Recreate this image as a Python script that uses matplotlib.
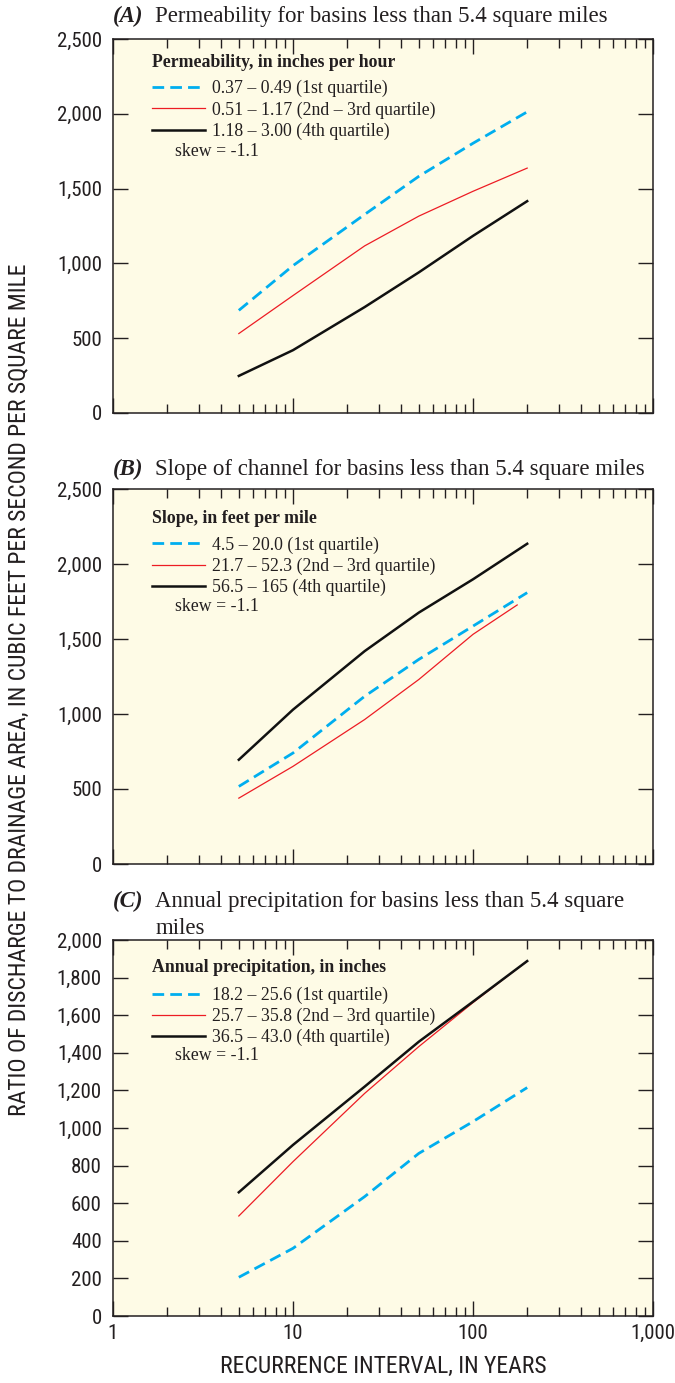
import matplotlib
matplotlib.use('Agg')
import matplotlib.pyplot as plt
from matplotlib.ticker import FuncFormatter, FixedLocator, NullFormatter

# Recurrence interval, in years
years = [5, 10, 25, 50, 100, 200]
years_b_red = [5, 10, 25, 50, 100, 176]

# (A) Permeability
perm_q1 = [686, 985, 1327, 1582, 1803, 2013]
perm_q23 = [531, 785, 1117, 1316, 1482, 1637]
perm_q4 = [248, 420, 708, 940, 1184, 1416]

# (B) Slope of channel
slope_q1 = [517, 740, 1118, 1364, 1586, 1809]
slope_q23 = [439, 651, 963, 1230, 1531, 1727]
slope_q4 = [695, 1029, 1419, 1676, 1898, 2135]

# (C) Annual precipitation
precip_q1 = [206, 360, 635, 865, 1034, 1215]
precip_q23 = [532, 821, 1184, 1433, 1667, 1888]
precip_q4 = [658, 910, 1220, 1459, 1672, 1888]

labels_a = ['0.37 – 0.49 (1st quartile)', '0.51 – 1.17 (2nd – 3rd quartile)',
            '1.18 – 3.00 (4th quartile)']
labels_b = ['4.5 – 20.0 (1st quartile)', '21.7 – 52.3 (2nd – 3rd quartile)',
            '56.5 – 165 (4th quartile)']
labels_c = ['18.2 – 25.6 (1st quartile)', '25.7 – 35.8 (2nd – 3rd quartile)',
            '36.5 – 43.0 (4th quartile)']

BLUE = '#00AEEF'
RED = '#ED1C24'
INK = '#231F20'
PAPER = '#FEFBE6'
SERIF = ['Liberation Serif', 'DejaVu Serif']
NARROW = ['Roboto Condensed', 'Liberation Sans', 'DejaVu Sans']

W, H = 675, 1383


def axes_rect(top, bottom, left=113, right=653):
    return [left / W, 1 - bottom / H, (right - left) / W, (bottom - top) / H]


def style_axes(ax, ymax, ystep, show_x):
    ax.set_facecolor(PAPER)
    ax.set_xscale('log')
    ax.set_xlim(1, 1000)
    ax.set_ylim(0, ymax)
    ax.yaxis.set_major_locator(FixedLocator(list(range(0, ymax + 1, ystep))))
    ax.yaxis.set_major_formatter(FuncFormatter(lambda v, p: f'{int(v):,}'))
    ax.xaxis.set_major_locator(FixedLocator([1, 10, 100, 1000]))
    ax.xaxis.set_minor_locator(FixedLocator(
        [m * d for d in (1, 10, 100) for m in range(2, 10)]))
    ax.xaxis.set_minor_formatter(NullFormatter())
    if show_x:
        ax.xaxis.set_major_formatter(FuncFormatter(lambda v, p: f'{int(v):,}'))
    else:
        ax.xaxis.set_major_formatter(NullFormatter())
    ax.tick_params(axis='both', which='major', direction='in', length=10.5,
                   width=1, color=INK, top=True, right=True,
                   labelsize=15, labelcolor=INK)
    ax.tick_params(axis='y', which='major', pad=8)
    ax.tick_params(axis='x', which='major', pad=6)
    ax.tick_params(axis='x', which='minor', direction='in', length=6.5,
                   width=1, color=INK, top=True, bottom=True)
    for lab in ax.get_xticklabels() + ax.get_yticklabels():
        lab.set_family(NARROW)
    for sp in ax.spines.values():
        sp.set_color(INK)
        sp.set_linewidth(1.1)


def draw_panel(ax, q1, q23, q4, labels, legend_title, ys, x23=years):
    ax.plot(years, q1, color=BLUE, linewidth=2.0, dashes=(4.2, 2.2),
            label=labels[0])
    ax.plot(x23, q23, color=RED, linewidth=0.9, label=labels[1])
    ax.plot(years, q4, color='#111111', linewidth=1.8, label=labels[2])
    y_title, y_leg, y_skew = ys
    ax.text(0.072, y_title, legend_title, transform=ax.transAxes,
            family=SERIF, fontsize=12.8, weight='bold', color=INK,
            va='center')
    leg = ax.legend(loc='upper left', bbox_to_anchor=(0.072, y_leg),
                    frameon=False, borderpad=0, borderaxespad=0,
                    handlelength=3.0, handletextpad=0.4, labelspacing=0.22,
                    prop={'family': SERIF, 'size': 12.8})
    for t in leg.get_texts():
        t.set_color(INK)
    ax.text(0.115, y_skew, 'skew = -1.1', transform=ax.transAxes,
            family=SERIF, fontsize=12.8, color=INK, va='center')


def panel_title(ax, letter, text, y):
    ax.text(0.0, y, f'({letter})', transform=ax.transAxes, family=SERIF,
            fontsize=16.5, style='italic', weight='bold', color=INK,
            va='baseline')
    ax.text(0.078, y, text, transform=ax.transAxes, family=SERIF,
            fontsize=16.5, color=INK, va='baseline')


fig = plt.figure(figsize=(W / 100, H / 100), dpi=100)

ax_a = fig.add_axes(axes_rect(39, 413))
style_axes(ax_a, 2500, 500, False)
draw_panel(ax_a, perm_q1, perm_q23, perm_q4, labels_a,
           'Permeability, in inches per hour', (0.9385, 0.89, 0.70))
panel_title(ax_a, 'A', 'Permeability for basins less than 5.4 square miles',
            1.045)

ax_b = fig.add_axes(axes_rect(489, 864))
style_axes(ax_b, 2500, 500, False)
draw_panel(ax_b, slope_q1, slope_q23, slope_q4, labels_b,
           'Slope, in feet per mile', (0.92, 0.874, 0.686), x23=years_b_red)
panel_title(ax_b, 'B', 'Slope of channel for basins less than 5.4 square miles',
            1.036)

ax_c = fig.add_axes(axes_rect(940, 1316))
style_axes(ax_c, 2000, 200, True)
draw_panel(ax_c, precip_q1, precip_q23, precip_q4, labels_c,
           'Annual precipitation, in inches', (0.928, 0.876, 0.694))
panel_title(ax_c, 'C', 'Annual precipitation for basins less than 5.4 square',
            1.088)
ax_c.text(0.078, 1.016, 'miles', transform=ax_c.transAxes, family=SERIF,
          fontsize=16.5, color=INK, va='baseline')

fig.text(383 / W, 1 - 1366 / H, 'RECURRENCE INTERVAL, IN YEARS',
         family=NARROW, fontsize=17, color=INK, ha='center', va='center')
fig.text(19 / W, 1 - 690 / H,
         'RATIO OF DISCHARGE TO DRAINAGE AREA, IN CUBIC FEET PER SECOND PER SQUARE MILE',
         family=NARROW, fontsize=17, color=INK, ha='center', va='center',
         rotation=90)

fig.savefig('out.png', dpi=100, facecolor='white')
